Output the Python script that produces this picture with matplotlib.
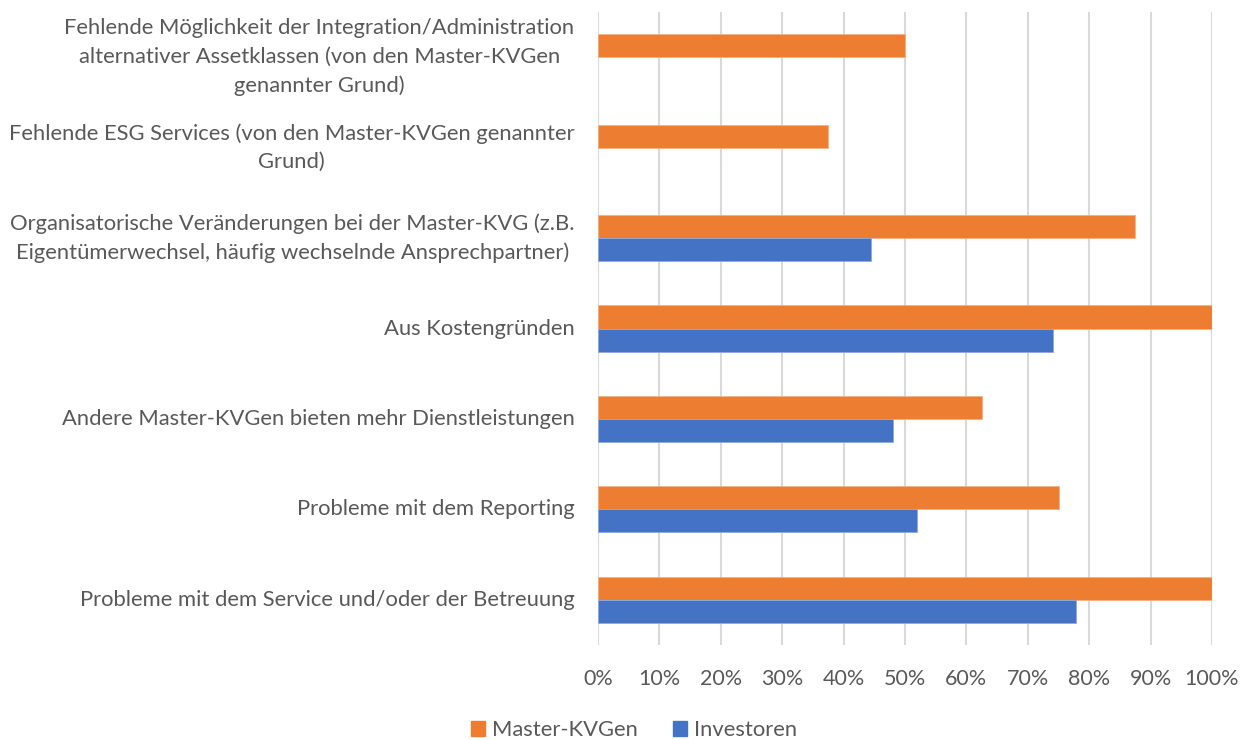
import matplotlib
matplotlib.use('Agg')
import matplotlib.pyplot as plt
import matplotlib.patches as mpatches
import numpy as np

# Gründe für einen Wechsel der Master-KVG (Anteil der Nennungen)
categories = [
    'Fehlende Möglichkeit der Integration/Administration\nalternativer Assetklassen (von den Master-KVGen\ngenannter Grund)',
    'Fehlende ESG Services (von den Master-KVGen genannter\nGrund)',
    'Organisatorische Veränderungen bei der Master-KVG (z.B.\nEigentümerwechsel, häufig wechselnde Ansprechpartner)',
    'Aus Kostengründen',
    'Andere Master-KVGen bieten mehr Dienstleistungen',
    'Probleme mit dem Reporting',
    'Probleme mit dem Service und/oder der Betreuung',
]
master_kvgen = [50.0, 37.5, 87.5, 100.0, 62.5, 75.0, 100.0]
investoren = [None, None, 44.4, 74.1, 48.1, 51.9, 77.8]
x_ticks = list(range(0, 101, 10))

ORANGE = '#ED7D31'
BLUE = '#4472C4'
TEXT = '#595959'
GRID = '#D9D9D9'
FONT = ['Lato', 'DejaVu Sans']

plt.rcParams['font.family'] = FONT

fig = plt.figure(figsize=(12.47, 7.40), dpi=100)
ax = fig.add_axes([598 / 1247, 1 - 645 / 740, 614 / 1247, 633 / 740])

n = len(categories)
pos = np.arange(n)
bar_h = 0.255

inv_vals = [v if v is not None else 0 for v in investoren]
ax.barh(pos - bar_h / 2, master_kvgen, height=bar_h, color=ORANGE,
        edgecolor='#F4B183', linewidth=0.6, zorder=3)
inv_bars = ax.barh(pos + bar_h / 2, inv_vals, height=bar_h, color=BLUE,
                   edgecolor='#8FAADC', linewidth=0.6, zorder=3)
for b, v in zip(inv_bars, investoren):
    if v is None:
        b.set_visible(False)

ax.set_ylim(n - 0.5, -0.5)
ax.set_xlim(0, 100)
ax.set_xticks(x_ticks)
ax.set_xticklabels([f'{t}%' for t in x_ticks], fontsize=15.5, color=TEXT)
ax.set_yticks(pos)
ax.set_yticklabels(categories, fontsize=15.8, color=TEXT, va='center',
                   multialignment='center', linespacing=1.55)
ax.tick_params(axis='both', length=0)
ax.tick_params(axis='y', pad=17)
ax.tick_params(axis='x', pad=17)

ax.grid(axis='x', color=GRID, linewidth=1.5, zorder=0)
for s in ax.spines.values():
    s.set_visible(False)

handles = [mpatches.Patch(color=ORANGE, label='Master-KVGen'),
           mpatches.Patch(color=BLUE, label='Investoren')]
fig.legend(handles=handles, loc='center', bbox_to_anchor=(634 / 1247, 1 - 730 / 740),
           ncol=2, frameon=False, fontsize=15.8, labelcolor=TEXT,
           handlelength=0.65, handleheight=0.65, handletextpad=0.3,
           columnspacing=1.6, borderpad=0)

fig.savefig('out.png', dpi=100, facecolor='white')
